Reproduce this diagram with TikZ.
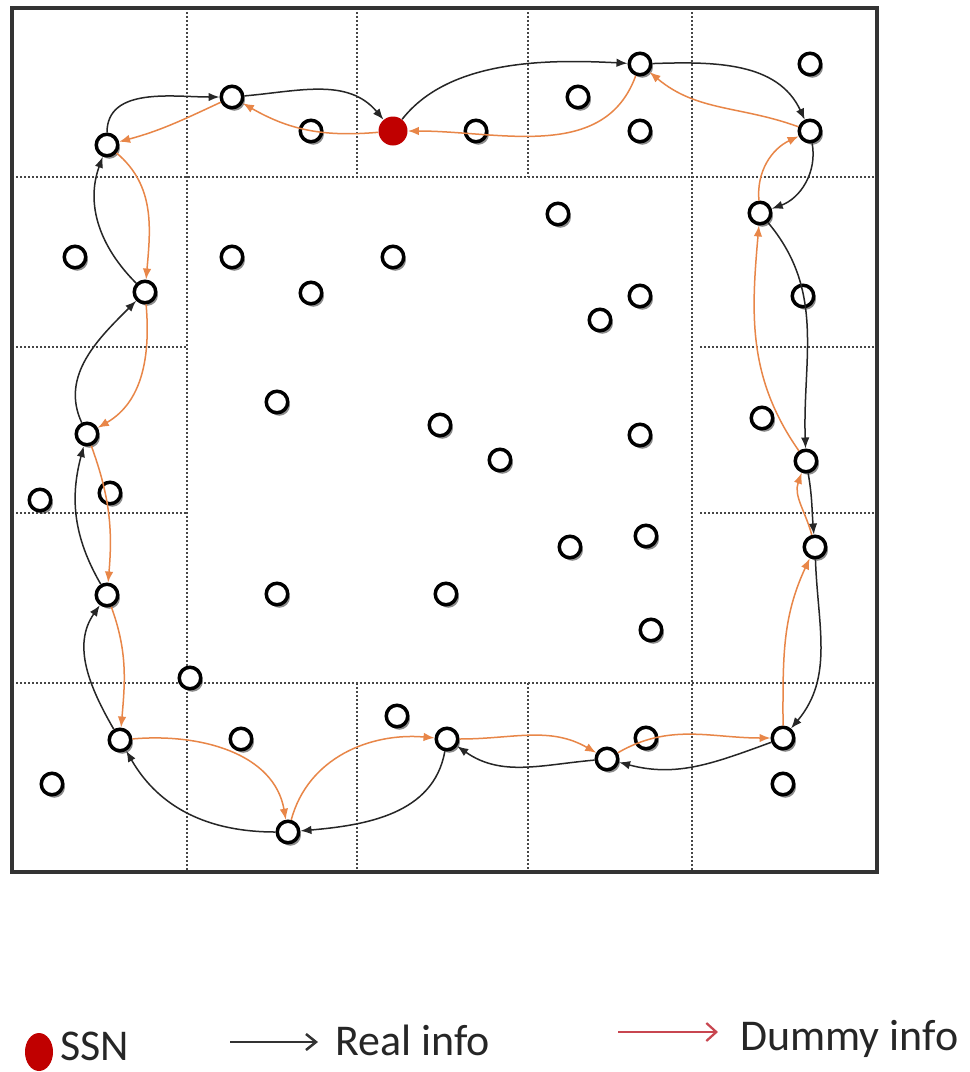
\documentclass[tikz,border=0pt]{standalone}
\usepackage{fontspec}
\setmainfont{Carlito}
\usetikzlibrary{arrows.meta,shadows}
\definecolor{dummy}{RGB}{232,134,72}
\definecolor{ssnred}{RGB}{192,0,0}
\definecolor{legred}{RGB}{200,70,80}
\definecolor{gridc}{RGB}{70,70,70}
\begin{document}
\begin{tikzpicture}[x=0.2mm,y=0.2mm,
 sn/.style={circle,draw=black,line width=0.7mm,fill=white,minimum size=4.3mm,inner sep=0pt,
   drop shadow={shadow xshift=0.45mm,shadow yshift=-0.6mm,fill=black,opacity=0.45}},
 ssn/.style={circle,fill=ssnred,minimum size=5.8mm,inner sep=0pt},
 real/.style={draw=black!85,line width=0.3mm,-{Latex[length=2.2mm,width=1.7mm]}},
 dum/.style={draw=dummy,line width=0.3mm,-{Latex[length=2.2mm,width=1.7mm]}},
 gridl/.style={draw=gridc,line width=0.42mm,dash pattern=on 0.4mm off 0.4mm},
 lab/.style={inner sep=0pt,text depth=0pt,font=\fontsize{25}{30}\selectfont,text=black!85}
]
\fill[white] (0,0) rectangle (969,-1072);
\useasboundingbox (0,0) rectangle (969,-1072);
% grid
\draw[gridl] (187,-8) -- (187,-872);
\draw[gridl] (692,-8) -- (692,-872);
\draw[gridl] (357,-8) -- (357,-177);
\draw[gridl] (528,-8) -- (528,-177);
\draw[gridl] (357,-683) -- (357,-872);
\draw[gridl] (528,-683) -- (528,-872);
\draw[gridl] (12,-177) -- (877,-177);
\draw[gridl] (12,-683) -- (877,-683);
\draw[gridl] (12,-347) -- (187,-347);
\draw[gridl] (12,-513) -- (187,-513);
\draw[gridl] (700,-347) -- (877,-347);
\draw[gridl] (700,-513) -- (877,-513);
\draw[line width=0.7mm,black!80] (12,-8) rectangle (877,-872);
% plain nodes
\foreach \x/\y [count=\i] in {311/131,476/131,578/97,640/131,810/64,75/257,232/257,311/293,393/257,558/214,600/320,640/296,803/296,277/402,40/500,110/493,440/425,500/460,640/435,762/418,570/547,646/536,277/594,446/594,651/630,190/678,397/716,241/739,646/738,52/784,783/784}
  \node[sn] (p\i) at (\x,-\y) {};
% path nodes
\node[ssn] (s) at (393,-131) {};
\node[sn] (a1) at (640,-64) {};
\node[sn] (a2) at (810,-131) {};
\node[sn] (a3) at (760,-213) {};
\node[sn] (a4) at (806,-461) {};
\node[sn] (a5) at (815,-547) {};
\node[sn] (a6) at (783,-738) {};
\node[sn] (a7) at (607,-759) {};
\node[sn] (a8) at (447,-739) {};
\node[sn] (a9) at (288,-832) {};
\node[sn] (a10) at (120,-740) {};
\node[sn] (a11) at (107,-595) {};
\node[sn] (a12) at (87,-434) {};
\node[sn] (a13) at (145,-292) {};
\node[sn] (a14) at (107,-145) {};
\node[sn] (a15) at (232,-97) {};
% real info
\draw[real] (s) to[out=52,in=177,looseness=0.85] (a1);
\draw[real] (a1) to[out=2,in=115] (a2);
\draw[real] (a2) to[out=-80,in=20] (a3);
\draw[real] (a3) to[out=-50,in=92] (a4);
\draw[real] (a4) to[out=-80,in=95] (a5);
\draw[real] (a5) to[out=-88,in=50] (a6);
\draw[real] (a6) to[out=200,in=-15] (a7);
\draw[real] (a7) to[out=185,in=-35] (a8);
\draw[real] (a8) to[out=-100,in=5] (a9);
\draw[real] (a9) to[out=180,in=-60] (a10);
\draw[real] (a10) to[out=120,in=-125] (a11);
\draw[real] (a11) to[out=120,in=-105] (a12);
\draw[real] (a12) to[out=115,in=-135] (a13);
\draw[real] (a13) to[out=135,in=-110] (a14);
\draw[real] (a14) to[out=90,in=180] (a15);
\draw[real] (a15) to[out=5,in=130] (s);
% dummy info
\draw[dum] (s) to[out=185,in=-30] (a15);
\draw[dum] (a15) to[out=205,in=15] (a14);
\draw[dum] (a14) to[out=-40,in=85] (a13);
\draw[dum] (a13) to[out=-85,in=30] (a12);
\draw[dum] (a12) to[out=-70,in=85] (a11);
\draw[dum] (a11) to[out=-70,in=85] (a10);
\draw[dum] (a10) to[out=5,in=100] (a9);
\draw[dum] (a9) to[out=75,in=175] (a8);
\draw[dum] (a8) to[out=0,in=150] (a7);
\draw[dum] (a7) to[out=30,in=180] (a6);
\draw[dum] (a6) to[out=90,in=-115] (a5);
\draw[dum] (a5) to[out=105,in=-110] (a4);
\draw[dum] (a4) to[out=125,in=-95] (a3);
\draw[dum] (a3) to[out=95,in=205] (a2);
\draw[dum] (a2) to[out=160,in=-40] (a1);
\draw[dum] (a1) to[out=-110,in=0] (s);
% legend
\fill[ssnred] (39,-1052) ellipse [x radius=14,y radius=19];
\node[lab,anchor=base west] (lssn) at (60,-1060) {SSN};
\coordinate (rb) at (230,-1042);
\coordinate (re) at (318,-1042);
\draw[line width=0.5mm,black!80,-{Straight Barb[length=2mm,width=3.2mm]}] (rb) -- (re);
\node[lab,anchor=base west] (lreal) at (335,-1055) {Real info};
\coordinate (db) at (618,-1032);
\coordinate (de) at (718,-1032);
\draw[line width=0.45mm,legred,-{Straight Barb[length=2mm,width=3.6mm]}] (db) -- (de);
\node[lab,anchor=base west] (ldum) at (740,-1050) {Dummy info};
\end{tikzpicture}
\end{document}
